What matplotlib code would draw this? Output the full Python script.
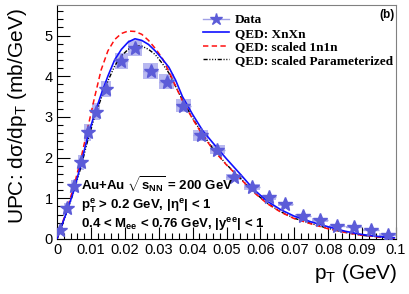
import matplotlib as mpl
mpl.use('Agg')
import matplotlib.pyplot as plt
from matplotlib.lines import Line2D
from matplotlib.ticker import MultipleLocator, FixedFormatter, FixedLocator

mpl.rcParams['mathtext.fontset'] = 'custom'
mpl.rcParams['mathtext.rm'] = 'Liberation Sans'
mpl.rcParams['mathtext.it'] = 'Liberation Sans:italic'
mpl.rcParams['mathtext.bf'] = 'Liberation Sans:bold'

# data points (pT in GeV, dsigma/dpT in mb/GeV)
data_pt = [0.001, 0.003, 0.005, 0.007, 0.009, 0.0115, 0.0144, 0.0189, 0.023,
           0.0277, 0.0324, 0.0372, 0.0424, 0.0473, 0.0522, 0.0575, 0.0624,
           0.0674, 0.0726, 0.0776, 0.0827, 0.0877, 0.0927, 0.0975]
data_y = [0.23, 0.76, 1.30, 1.88, 2.62, 3.13, 3.68, 4.38, 4.70,
          4.13, 3.87, 3.28, 2.55, 2.19, 1.52, 1.27, 1.03,
          0.86, 0.57, 0.47, 0.32, 0.29, 0.22, 0.11]
data_xw = [0.0009, 0.0009, 0.0009, 0.0009, 0.0009, 0.0013, 0.0014, 0.0019, 0.0021,
           0.0022, 0.0022, 0.0022, 0.0022, 0.0022, 0.0023, 0.0023, 0.0023,
           0.0023, 0.0024, 0.0024, 0.0024, 0.0024, 0.0024, 0.0024]
data_sys = [0.06, 0.12, 0.15, 0.18, 0.20, 0.20, 0.20, 0.20, 0.20,
            0.20, 0.18, 0.16, 0.13, 0.11, 0.08, 0.07, 0.06,
            0.05, 0.04, 0.04, 0.03, 0.03, 0.03, 0.03]

# model curves
curve_pt = [0.0, 0.001, 0.003, 0.005, 0.007, 0.009, 0.011, 0.013, 0.015, 0.017,
            0.019, 0.021, 0.023, 0.025, 0.027, 0.029, 0.031, 0.033, 0.035, 0.037,
            0.040, 0.043, 0.046, 0.050, 0.054, 0.058, 0.062, 0.066, 0.070, 0.075,
            0.080, 0.085, 0.090, 0.095, 0.0995]
xnxn = [0.0, 0.24, 0.70, 1.20, 1.82, 2.50, 3.05, 3.55, 4.00, 4.40,
        4.66, 4.84, 4.92, 4.88, 4.78, 4.62, 4.43, 4.22, 3.90, 3.50,
        3.06, 2.66, 2.36, 1.97, 1.60, 1.22, 0.93, 0.72, 0.56, 0.42,
        0.30, 0.19, 0.11, 0.06, 0.03]
scaled_1n1n = [0.0, 0.24, 0.75, 1.30, 1.95, 2.70, 3.45, 4.15, 4.62, 4.90,
               5.05, 5.11, 5.10, 5.03, 4.88, 4.68, 4.45, 4.12, 3.75, 3.40,
               2.95, 2.55, 2.20, 1.82, 1.49, 1.15, 0.87, 0.66, 0.50, 0.37,
               0.25, 0.16, 0.09, 0.05, 0.02]
scaled_param = [0.0, 0.22, 0.68, 1.18, 1.75, 2.40, 2.98, 3.45, 3.88, 4.25,
                4.50, 4.66, 4.74, 4.74, 4.66, 4.53, 4.32, 4.08, 3.75, 3.42,
                2.97, 2.57, 2.22, 1.83, 1.50, 1.16, 0.88, 0.67, 0.51, 0.38,
                0.26, 0.16, 0.09, 0.05, 0.02]

xticks = [0, 0.01, 0.02, 0.03, 0.04, 0.05, 0.06, 0.07, 0.08, 0.09, 0.1]
xticklabels = ['0', '0.01', '0.02', '0.03', '0.04', '0.05', '0.06', '0.07', '0.08', '0.09', '0.1']
yticks = [0, 1, 2, 3, 4, 5]

star_col = '#5c5cd8'
box_col = '#b8b8f0'
W, H = 409, 294

fig = plt.figure(figsize=(W / 100, H / 100), dpi=100)
ax = fig.add_axes([57 / W, 1 - 239 / H, (396 - 57) / W, (239 - 5) / H])

# systematic boxes
ax.bar(data_pt, [2 * s for s in data_sys], width=[2 * w for w in data_xw],
       bottom=[y - s for y, s in zip(data_y, data_sys)],
       color=box_col, edgecolor='none', zorder=1)
ax.errorbar(data_pt, data_y, xerr=data_xw, fmt='none', ecolor='#a0a0e6', elinewidth=1, zorder=2)

ax.plot(curve_pt, scaled_param, color='black', lw=1.0,
        dashes=(3, 1.2, 0.8, 1.2, 0.8, 1.2, 0.8, 1.2), zorder=3)
ax.plot(curve_pt, scaled_1n1n, color='#ff1010', lw=1.1, dashes=(3.5, 2.2), zorder=3)
ax.plot(curve_pt, xnxn, color='#1010ff', lw=1.2, zorder=4)
ax.plot(data_pt, data_y, ls='none', marker='*', ms=10.5, color=star_col,
        markeredgecolor=star_col, zorder=5)

ax.set_xlim(0, 0.1)
ax.set_ylim(0, 5.75)
ax.xaxis.set_major_locator(FixedLocator(xticks))
ax.xaxis.set_major_formatter(FixedFormatter(xticklabels))
ax.xaxis.set_minor_locator(MultipleLocator(0.002))
ax.yaxis.set_major_locator(FixedLocator(yticks))
ax.yaxis.set_minor_locator(MultipleLocator(0.2))
ax.tick_params(which='both', direction='in', top=False, right=False,
               labelsize=10.5, pad=3)
ax.tick_params(which='major', length=9, width=0.8)
ax.tick_params(which='minor', length=4.5, width=0.8)
for lab in ax.get_xticklabels() + ax.get_yticklabels():
    lab.set_fontfamily('Liberation Sans')
for side in ['top', 'right']:
    ax.spines[side].set_color('#808080')
for side in ax.spines:
    ax.spines[side].set_linewidth(0.8)

fig.text(18 / W, 1 - 8 / H, 'UPC: d\u03c3/dp$_\\mathrm{T}$ (mb/GeV)', rotation=90,
         ha='center', va='top', fontsize=15, family='Liberation Sans')
fig.text(397 / W, 1 - 262 / H, 'p$_\\mathrm{T}$ (GeV)', ha='right', va='top',
         fontsize=15, family='Liberation Sans')

fig.text(395 / W, 1 - 9 / H, '(b)', ha='right', va='top', fontsize=8.5,
         family='Liberation Sans', weight='bold')

info = [r'Au+Au $\sqrt{\mathbf{s}_{\mathbf{NN}}}$ = 200 GeV',
        'p$_{\\mathbf{T}}^{\\mathbf{e}}$ > 0.2 GeV, |\u03b7$^{\\mathbf{e}}$| < 1',
        r'0.4 < M$_{\mathbf{ee}}$ < 0.76 GeV, |y$^{\mathbf{ee}}$| < 1']
for i, s in enumerate(info):
    fig.text(81 / W, 1 - (191 + 18.5 * i) / H, s, ha='left', va='baseline',
             fontsize=9.5, family='Liberation Sans', weight='bold')

handles = [Line2D([], [], color='#a0a0e6', lw=1, marker='*', ms=9, markerfacecolor=star_col,
                  markeredgecolor=star_col),
           Line2D([], [], color='#1010ff', lw=1.2),
           Line2D([], [], color='#ff1010', lw=1.1, dashes=(3.5, 2.2)),
           Line2D([], [], color='black', lw=1.0, dashes=(3, 1.2, 0.8, 1.2, 0.8, 1.2, 0.8, 1.2))]
labels = ['Data', 'QED: XnXn', 'QED: scaled 1n1n', 'QED: scaled Parameterized']
ax.legend(handles, labels, loc='upper left', bbox_to_anchor=(203 / W, 1 - 14 / H),
          bbox_transform=fig.transFigure, frameon=False, handlelength=2.0,
          handletextpad=0.4, labelspacing=0.1, borderpad=0, borderaxespad=0,
          prop={'family': 'Liberation Serif', 'weight': 'bold', 'size': 9.5})

fig.savefig('out.png', dpi=100)
